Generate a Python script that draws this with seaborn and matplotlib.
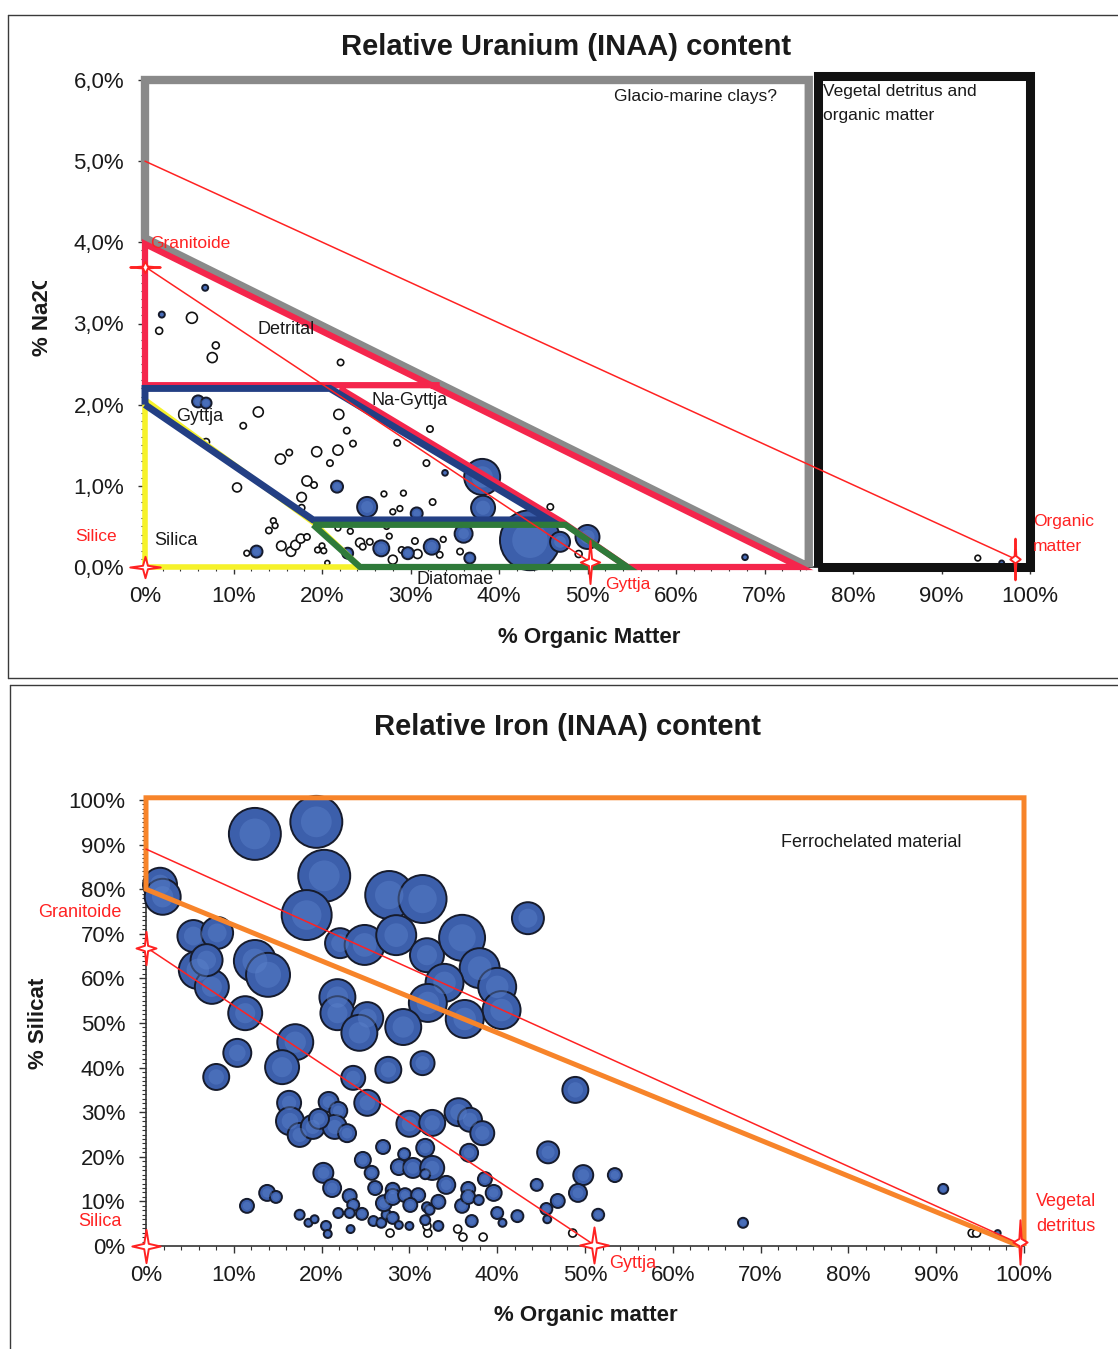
import matplotlib
matplotlib.use("Agg")
import matplotlib.pyplot as plt
from matplotlib.path import Path
from matplotlib.lines import Line2D
from matplotlib.ticker import MultipleLocator
from matplotlib.transforms import Bbox, TransformedBbox
import pandas as pd
import seaborn as sns

# ---------------- Uranium panel: bubbles (negative value = hollow bubble) ----------------
u_organic = [6.8, 1.9, 5.3, 1.6, 8.0, 7.6, 22.1, 6.0, 6.9, 12.8,
             11.1, 6.9, 21.9, 22.8, 23.5, 28.5, 32.2, 31.8, 33.9, 15.3,
             16.3, 19.4, 21.8, 20.9, 10.4, 18.3, 19.1, 21.7, 17.7, 17.7,
             27.0, 29.2, 32.5, 25.1, 28.0, 28.8, 30.7, 14.5, 14.7, 14.0,
             11.5, 12.6, 15.4, 16.5, 17.0, 17.6, 18.3, 20.0, 20.2, 19.5,
             20.6, 21.8, 23.2, 22.9, 24.3, 25.4, 24.6, 26.7, 27.6, 28.0,
             29.0, 29.7, 30.5, 30.8, 32.4, 33.3, 36.0, 35.6, 36.7, 38.1,
             38.2, 43.5, 46.9, 50.0, 49.0, 45.8, 67.8, 94.1, 96.8, 33.7,
             27.3]
u_na2o = [3.44, 3.11, 3.07, 2.91, 2.73, 2.58, 2.52, 2.04, 2.02, 1.91,
          1.74, 1.54, 1.88, 1.68, 1.52, 1.53, 1.70, 1.28, 1.16, 1.33,
          1.41, 1.42, 1.44, 1.28, 0.98, 1.06, 1.01, 0.99, 0.86, 0.73,
          0.90, 0.91, 0.80, 0.74, 0.68, 0.72, 0.66, 0.57, 0.51, 0.45,
          0.17, 0.19, 0.26, 0.19, 0.27, 0.35, 0.37, 0.26, 0.20, 0.21,
          0.05, 0.48, 0.44, 0.17, 0.30, 0.31, 0.25, 0.23, 0.38, 0.09,
          0.21, 0.17, 0.32, 0.16, 0.25, 0.15, 0.41, 0.19, 0.11, 1.11,
          0.73, 0.33, 0.31, 0.37, 0.16, 0.74, 0.12, 0.11, 0.05, 0.34,
          0.50]
u_uranium = [0.09, 0.09, -0.30, -0.12, -0.12, -0.25, -0.10, 0.36, 0.30, -0.25,
             -0.10, -0.12, -0.25, -0.10, -0.10, -0.10, -0.10, -0.10, 0.08, -0.25,
             -0.10, -0.25, -0.25, -0.10, -0.20, -0.25, -0.10, 0.36, -0.22, -0.10,
             -0.08, -0.08, -0.10, 1.00, -0.08, -0.08, 0.36, -0.08, -0.08, -0.10,
             -0.08, 0.36, -0.22, -0.22, -0.22, -0.20, -0.10, -0.08, -0.08, -0.08,
             -0.06, -0.08, -0.08, 0.30, -0.20, -0.10, -0.10, 0.64, -0.08, -0.20,
             -0.10, 0.36, -0.10, -0.20, 0.64, -0.10, 0.81, -0.10, 0.30, 3.24,
             1.44, 9.00, 1.00, 1.44, -0.12, -0.10, 0.08, -0.08, 0.06, -0.08,
             -0.08]

# Uranium panel: field outlines (x = % organic matter, y = % Na2O)
glacio_x = [75.0, 0.0, 0.0, 75.0, 75.0]
glacio_y = [0.0, 4.05, 6.0, 6.0, 0.0]
vegetal_x = [76.0, 76.0, 100.0, 100.0, 76.0]
vegetal_y = [0.0, 6.05, 6.05, 0.0, 0.0]
detrital_x = [33.3, 0.0, 0.0, 74.0, 54.5, 47.2, 22.0]
detrital_y = [2.24, 2.24, 3.98, 0.0, 0.0, 0.55, 2.2]
silica_x = [0.0, 0.0, 24.3, 19.0, 0.0]
silica_y = [2.06, 0.0, 0.0, 0.55, 2.06]
diatom_x = [19.0, 47.5, 54.5, 24.3, 19.0]
diatom_y = [0.52, 0.52, 0.0, 0.0, 0.52]
gyttja_x = [0.0, 0.0, 20.9, 45.7, 19.0, 0.0]
gyttja_y = [2.0, 2.2, 2.2, 0.58, 0.58, 2.0]
u_mix1_x, u_mix1_y = [0.0, 98.3], [5.0, 0.1]
u_mix2_x, u_mix2_y = [0.0, 50.3], [3.7, 0.06]
u_end_x = [0.0, 0.0, 50.3, 98.3]
u_end_y = [3.69, 0.0, 0.06, 0.1]

u_xticks = [0, 10, 20, 30, 40, 50, 60, 70, 80, 90, 100]
u_xticklabels = ["0%", "10%", "20%", "30%", "40%", "50%", "60%", "70%", "80%", "90%", "100%"]
u_yticks = [0, 1, 2, 3, 4, 5, 6]
u_yticklabels = ["0,0%", "1,0%", "2,0%", "3,0%", "4,0%", "5,0%", "6,0%"]

# ---------------- Iron panel: bubbles ----------------
fe_organic = [12.4, 19.4, 20.3, 18.3, 1.6, 1.9, 27.7, 31.5, 43.5, 5.4,
              8.1, 12.4, 13.9, 5.9, 7.5, 6.9, 22.1, 24.9, 28.5, 32.0,
              36.0, 38.0, 34.0, 40.0, 40.5, 32.1, 36.3, 21.8, 21.8, 25.2,
              24.3, 29.3, 11.3, 17.0, 10.4, 15.5, 8.0, 27.6, 31.5, 23.6,
              48.9, 25.2, 16.3, 16.4, 17.5, 19.0, 20.8, 21.9, 21.5, 22.9,
              19.7, 30.0, 32.6, 35.6, 36.9, 38.3, 36.8, 31.8, 27.0, 29.4,
              45.8, 24.7, 28.8, 30.4, 32.6, 25.7, 31.8, 20.2, 21.2, 26.1,
              28.1, 34.2, 36.7, 38.6, 39.6, 44.5, 49.8, 53.4, 49.2, 46.9,
              45.6, 51.5, 45.7, 48.6, 13.8, 14.8, 11.5, 23.2, 23.6, 21.9,
              23.2, 24.6, 17.5, 18.5, 19.2, 20.5, 20.7, 23.3, 25.9, 26.8,
              27.4, 28.1, 28.8, 30.0, 27.1, 28.1, 29.5, 31.0, 30.1, 32.0,
              33.3, 32.3, 31.8, 33.3, 36.0, 36.7, 37.9, 40.0, 40.6, 42.3,
              37.1, 32.1, 35.5, 36.1, 38.4, 27.8, 32.0, 90.8, 68.0, 94.1,
              94.6, 97.0]
fe_silicate = [92.4, 95.1, 83.0, 74.2, 81.0, 78.3, 78.7, 77.8, 73.5, 69.5,
               70.2, 63.9, 60.8, 61.9, 58.1, 64.1, 67.9, 67.5, 69.7, 65.2,
               69.1, 62.3, 59.0, 58.1, 52.9, 54.5, 50.9, 55.8, 52.2, 51.1,
               47.8, 49.1, 52.2, 45.7, 43.3, 40.1, 37.9, 39.5, 41.0, 37.7,
               35.0, 32.1, 32.1, 28.0, 24.9, 26.7, 32.3, 30.3, 26.7, 25.3,
               28.5, 27.4, 27.6, 30.0, 28.3, 25.3, 20.9, 22.0, 22.2, 20.6,
               21.0, 19.3, 17.7, 17.5, 17.5, 16.4, 16.1, 16.4, 13.0, 13.0,
               12.6, 13.7, 12.8, 15.0, 11.9, 13.7, 15.9, 15.9, 11.9, 10.1,
               8.3, 7.0, 6.0, 2.9, 11.9, 11.0, 9.0, 11.2, 9.2, 7.4,
               7.4, 7.2, 7.0, 5.2, 6.0, 4.5, 2.7, 3.8, 5.6, 5.2,
               7.0, 6.3, 4.7, 4.5, 9.6, 11.0, 11.4, 11.4, 9.2, 8.7,
               9.9, 8.1, 5.8, 4.5, 9.0, 11.0, 10.3, 7.4, 5.2, 6.7,
               5.6, 2.9, 3.8, 2.0, 2.0, 2.9, 4.5, 12.8, 5.2, 2.9,
               2.9, 2.9]
fe_iron = [6.76, 6.76, 6.76, 6.25, 2.89, 3.24, 5.76, 5.76, 2.56, 2.56,
           2.56, 4.41, 4.84, 3.61, 2.89, 2.56, 2.25, 4.00, 4.00, 2.89,
           5.29, 4.00, 3.61, 3.61, 3.61, 3.61, 3.61, 3.24, 2.89, 2.56,
           3.24, 3.24, 2.89, 3.24, 1.96, 2.89, 1.69, 1.69, 1.44, 1.44,
           1.69, 1.69, 1.44, 1.96, 1.44, 1.44, 1.00, 0.81, 1.44, 0.81,
           1.00, 1.69, 1.69, 1.96, 1.44, 1.44, 0.81, 0.81, 0.49, 0.36,
           1.21, 0.64, 0.64, 1.00, 1.44, 0.49, 0.25, 1.00, 0.81, 0.49,
           0.49, 0.81, 0.49, 0.49, 0.64, 0.36, 1.00, 0.49, 0.81, 0.49,
           0.36, 0.36, 0.16, -0.16, 0.64, 0.36, 0.49, 0.49, 0.36, 0.25,
           0.25, 0.36, 0.25, 0.16, 0.16, 0.25, 0.16, 0.16, 0.25, 0.25,
           0.25, 0.36, 0.16, 0.16, 0.64, 0.64, 0.49, 0.49, 0.49, 0.25,
           0.49, 0.25, 0.25, 0.25, 0.49, 0.49, 0.25, 0.36, 0.16, 0.36,
           0.36, -0.16, -0.16, -0.16, -0.16, -0.16, -0.16, 0.25, 0.25, -0.16,
           -0.16, 0.09]

# Iron panel: field outlines (x = % organic matter, y = % silicate)
ferro_x = [99.5, 0.0, 0.0, 100.0, 100.0]
ferro_y = [0.0, 80.0, 100.5, 100.5, 0.0]
fe_mix1_x, fe_mix1_y = [0.0, 99.5], [89.0, 0.5]
fe_mix2_x, fe_mix2_y = [0.0, 51.0], [67.0, 0.3]
fe_end_x = [0.0, 0.0, 51.0, 99.5]
fe_end_y = [66.8, 0.0, 0.3, 1.0]

fe_xticks = [0, 10, 20, 30, 40, 50, 60, 70, 80, 90, 100]
fe_xticklabels = ["0%", "10%", "20%", "30%", "40%", "50%", "60%", "70%", "80%", "90%", "100%"]
fe_yticks = [0, 10, 20, 30, 40, 50, 60, 70, 80, 90, 100]
fe_yticklabels = ["0%", "10%", "20%", "30%", "40%", "50%", "60%", "70%", "80%", "90%", "100%"]

# ---------------- styling ----------------
sns.set_theme(style="white")
plt.rcParams["font.family"] = ["Liberation Sans", "DejaVu Sans"]

BLUE = "#3c5fab"
HILITE = "#5f85cf"
EDGE = "#161b2c"
RED = "#ff2222"
FIELD_RED = "#f4264c"
TXT = "#1a1a1a"

W, H = 1118, 1349
fig = plt.figure(figsize=(W / 100, H / 100), dpi=100)
fig.patch.set_facecolor("white")


def fx(px):
    return px / W


def fy(py):
    return 1 - py / H


def px_axes(left, top, right, bottom):
    return fig.add_axes([fx(left), fy(bottom), (right - left) / W, (bottom - top) / H])


ax_u = px_axes(145, 80, 1030, 567)
ax_f = px_axes(146, 800, 1024, 1246)


def star_marker(w, h, k=0.16):
    verts = [(0, h), (k * w, k * h), (w, 0), (k * w, -k * h), (0, -h),
             (-k * w, -k * h), (-w, 0), (-k * w, k * h), (0, h)]
    codes = [Path.MOVETO] + [Path.LINETO] * 7 + [Path.CLOSEPOLY]
    return Path(verts, codes)


def draw_bubbles(ax, x, y, v, smax, vmax):
    df = pd.DataFrame({"x": x, "y": y, "v": v})
    df["a"] = df["v"].abs()
    hollow = df[df["v"] < 0]
    filled = df[df["v"] > 0]
    common = dict(x="x", y="y", size="a", size_norm=(0, vmax), legend=False,
                  ax=ax, clip_on=False)
    sns.scatterplot(data=hollow, sizes=(0, smax), color="white", edgecolor="#111111",
                    linewidth=1.2, zorder=3, **common)
    sns.scatterplot(data=filled, sizes=(0, smax), color=BLUE, edgecolor=EDGE,
                    linewidth=1.4, zorder=3, **common)
    sns.scatterplot(data=filled, sizes=(0, smax * 0.35), color=HILITE, edgecolor="none",
                    linewidth=0, alpha=0.4, zorder=3, **common)
    ax.set_xlabel("")
    ax.set_ylabel("")


def style_axes(ax, xticks, xlabels, yticks, ylabels, xminor, yminor):
    ax.set_xticks(xticks)
    ax.set_xticklabels(xlabels)
    ax.set_yticks(yticks)
    ax.set_yticklabels(ylabels)
    ax.set_xlabel("")
    ax.set_ylabel("")
    ax.xaxis.set_minor_locator(MultipleLocator(xminor))
    ax.yaxis.set_minor_locator(MultipleLocator(yminor))
    ax.tick_params(which="both", bottom=True, left=True, top=False, right=False,
                   direction="out", color="#333333")
    ax.tick_params(which="major", length=5, width=1.0, labelsize=16, labelcolor=TXT)
    ax.tick_params(axis="y", which="major", pad=10)
    ax.tick_params(axis="x", which="major", pad=9)
    ax.tick_params(which="minor", length=3, width=0.8)
    for s in ("top", "right"):
        ax.spines[s].set_visible(False)
    for s in ("left", "bottom"):
        ax.spines[s].set_color("#333333")
        ax.spines[s].set_linewidth(1.2)
    ax.set_facecolor("white")
    ax.grid(False)


# ---------------- Uranium panel ----------------
ax_u.set_xlim(0, 100)
ax_u.set_ylim(0, 6)
draw_bubbles(ax_u, u_organic, u_na2o, u_uranium, smax=1866, vmax=9.0)

line_kw = dict(clip_on=False, solid_joinstyle="miter", solid_capstyle="butt")
ax_u.plot(glacio_x, glacio_y, color="#8a8a8a", lw=6, zorder=4, **line_kw)
ax_u.plot(vegetal_x, vegetal_y, color="#111111", lw=6.5, zorder=4, **line_kw)
ax_u.plot(detrital_x, detrital_y, color=FIELD_RED, lw=4.5, zorder=5, **line_kw)
ax_u.plot(silica_x, silica_y, color="#f6f22a", lw=4, zorder=5, **line_kw)
ax_u.plot(gyttja_x, gyttja_y, color="#233f84", lw=5, zorder=6, **line_kw)
ax_u.plot(diatom_x, diatom_y, color="#2f7a3a", lw=4.5, zorder=6, **line_kw)
ax_u.plot(u_mix1_x, u_mix1_y, color=RED, lw=1.1, zorder=7, clip_on=False)
ax_u.plot(u_mix2_x, u_mix2_y, color=RED, lw=1.1, zorder=7, clip_on=False)

u_star_shapes = [(1.0, 0.38, 22), (1.0, 0.7, 22), (0.45, 1.0, 31), (0.25, 1.0, 30)]
for xs, ys, (sw, sh, ms) in zip(u_end_x, u_end_y, u_star_shapes):
    ax_u.plot([xs], [ys], linestyle="none", marker=star_marker(sw, sh), markersize=ms,
              markerfacecolor="white", markeredgecolor=RED, markeredgewidth=1.4,
              zorder=8, clip_on=False)

style_axes(ax_u, u_xticks, u_xticklabels, u_yticks, u_yticklabels, 2, 0.1)

note = dict(fontsize=12.5, color=TXT, clip_on=False, zorder=9)
ax_u.text(53.0, 5.80, "Glacio-marine clays?", ha="left", va="center", **note)
ax_u.text(76.6, 5.86, "Vegetal detritus and", ha="left", va="center", **note)
ax_u.text(76.6, 5.56, "organic matter", ha="left", va="center", **note)
ax_u.text(16.0, 2.93, "Detrital", ha="center", va="center", fontsize=13, color=TXT, zorder=9)
ax_u.text(6.2, 1.86, "Gyttja", ha="center", va="center", fontsize=13, color=TXT, zorder=9)
ax_u.text(29.9, 2.05, "Na-Gyttja", ha="center", va="center", fontsize=13, color=TXT, zorder=9)
ax_u.text(3.5, 0.33, "Silica", ha="center", va="center", fontsize=13, color=TXT, zorder=9)
ax_u.text(35.0, -0.15, "Diatomae", ha="center", va="center", fontsize=13, color=TXT,
          zorder=9, clip_on=False)

red_note = dict(fontsize=12.5, color=RED, clip_on=False, zorder=9)
ax_u.text(0.6, 3.99, "Granitoide", ha="left", va="center", **red_note)
ax_u.text(-5.5, 0.37, "Silice", ha="center", va="center", **red_note)
ax_u.text(54.6, -0.22, "Gyttja", ha="center", va="center", **red_note)
ax_u.text(100.3, 0.56, "Organic", ha="left", va="center", **red_note)
ax_u.text(100.3, 0.25, "matter", ha="left", va="center", **red_note)

# ---------------- Iron panel ----------------
ax_f.set_xlim(0, 100)
ax_f.set_ylim(0, 100)
draw_bubbles(ax_f, fe_organic, fe_silicate, fe_iron, smax=1400, vmax=6.76)

ax_f.plot(ferro_x, ferro_y, color="#f7842a", lw=3.6, zorder=5, **line_kw)
ax_f.plot(fe_mix1_x, fe_mix1_y, color=RED, lw=1.1, zorder=6, clip_on=False)
ax_f.plot(fe_mix2_x, fe_mix2_y, color=RED, lw=1.1, zorder=6, clip_on=False)

fe_star_shapes = [(0.6, 1.0, 24), (0.85, 1.0, 24), (0.8, 1.0, 26), (0.32, 1.0, 32)]
for xs, ys, (sw, sh, ms) in zip(fe_end_x, fe_end_y, fe_star_shapes):
    ax_f.plot([xs], [ys], linestyle="none", marker=star_marker(sw, sh), markersize=ms,
              markerfacecolor="white", markeredgecolor=RED, markeredgewidth=1.4,
              zorder=8, clip_on=False)

style_axes(ax_f, fe_xticks, fe_xticklabels, fe_yticks, fe_yticklabels, 2, 1)

ax_f.text(82.6, 90.4, "Ferrochelated material", ha="center", va="center", fontsize=13,
          color=TXT, zorder=9)
red_note_f = dict(fontsize=13, color=RED, clip_on=False, zorder=9)
ax_f.text(-7.5, 74.7, "Granitoide", ha="center", va="center", **red_note_f)
ax_f.text(-5.2, 5.6, "Silica", ha="center", va="center", **red_note_f)
ax_f.text(55.4, -4.0, "Gyttja", ha="center", va="center", **red_note_f)
ax_f.text(104.8, 9.9, "Vegetal", ha="center", va="center", **red_note_f)
ax_f.text(104.8, 4.3, "detritus", ha="center", va="center", **red_note_f)

# ---------------- titles, axis titles, frames ----------------
fig.text(fx(566), fy(47), "Relative Uranium (INAA) content", ha="center", va="center",
         fontsize=21, fontweight="bold", color=TXT)
fig.text(fx(568), fy(727), "Relative Iron (INAA) content", ha="center", va="center",
         fontsize=21, fontweight="bold", color=TXT)
fig.text(fx(589), fy(638), "% Organic Matter", ha="center", va="center",
         fontsize=16, fontweight="bold", color=TXT)
fig.text(fx(586), fy(1316), "% Organic matter", ha="center", va="center",
         fontsize=16, fontweight="bold", color=TXT)


def clipped_ylabel(text, x_px, y_start_px, y_clip_px):
    t = fig.text(fx(x_px), fy(y_start_px), text, rotation=90, rotation_mode="anchor",
                 ha="left", va="center", fontsize=16, fontweight="bold", color=TXT)
    box = Bbox.from_extents(fx(x_px - 30), fy(y_start_px + 20), fx(x_px + 30), fy(y_clip_px))
    t.set_clip_box(TransformedBbox(box, fig.transFigure))
    t.set_clip_on(True)


clipped_ylabel("% Na2O", 42, 356, 281)
clipped_ylabel("% Silicate", 38, 1069, 978)

frame_kw = dict(color="#3a3a3a", lw=1.0)
fig.add_artist(Line2D([fx(8), fx(1118)], [fy(15), fy(15)], **frame_kw))
fig.add_artist(Line2D([fx(8), fx(8)], [fy(15), fy(678)], **frame_kw))
fig.add_artist(Line2D([fx(8), fx(1118)], [fy(678), fy(678)], **frame_kw))
fig.add_artist(Line2D([fx(10), fx(1118)], [fy(685), fy(685)], **frame_kw))
fig.add_artist(Line2D([fx(10), fx(10)], [fy(685), fy(1349)], **frame_kw))

fig.savefig("out.png", dpi=100, facecolor="white")
